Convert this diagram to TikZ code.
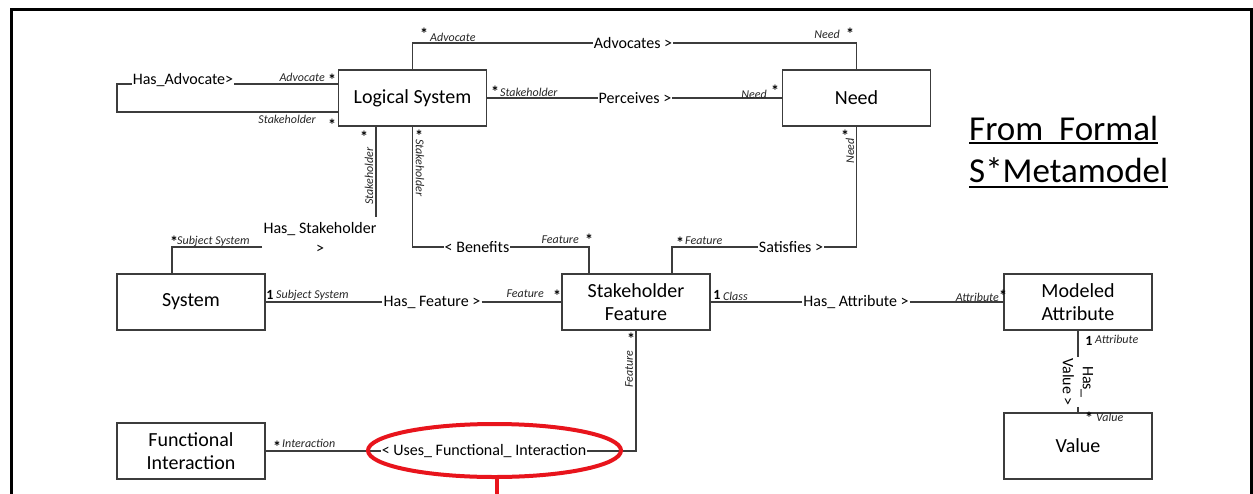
\documentclass[tikz,border=0pt]{standalone}
\usepackage{fontspec}
\setmainfont{Carlito}
\usetikzlibrary{shapes.geometric}
\definecolor{linegray}{HTML}{3C3C3C}
\definecolor{markred}{HTML}{E8141C}
\tikzset{
  box/.style={draw=linegray, line width=1.6pt, fill=white, minimum width=148pt,
    minimum height=56pt, inner sep=0pt, align=center,
    font=\fontsize{20}{23.5}\selectfont},
  wire/.style={draw=linegray, line width=1.5pt},
  rel/.style={fill=white, inner sep=1pt, align=center,
    font=\fontsize{16}{20}\selectfont},
  role/.style={inner sep=0pt, text=black!85, font=\fontsize{12}{12}\selectfont\itshape},
  starmark/.style={inner sep=0pt, yshift=-2.5pt, font=\fontsize{16}{16}\selectfont\bfseries},
  onemark/.style={inner sep=0pt, font=\fontsize{14}{14}\selectfont\bfseries},
  titletext/.style={inner sep=0pt, font=\fontsize{35}{40}\selectfont},
}
\begin{document}
\begin{tikzpicture}[x=1pt, y=-1pt]
\fill[white] (0,0) rectangle (1253,493);
\useasboundingbox (0,0) rectangle (1253,493);

% outer frame, open at the bottom
\draw[line width=3pt] (11,496) -- (11,9.5) -- (1251,9.5) -- (1251,496);

% classes
\node[box] (ls)   at (412.5,98)  {Logical System};
\node[box] (need) at (856.5,98)  {Need};
\node[box] (sys)  at (191,302)   {System};
\node[box] (sf)   at (636,302)   {Stakeholder\\Feature};
\node[box] (ma)   at (1078,302)  {Modeled\\Attribute};
\node[box, minimum height=66pt] (val) at (1078,446) {Value};
\node[box] (fi)   at (191,451)   {Functional\\Interaction};

% association names
\node[rel] (advs) at (633,43)   {Advocates >};
\node[rel] (perc) at (635,98)   {Perceives >};
\node[rel] (hadv) at (183,80)   {Has\_Advocate>};
\node[rel, fill=none] (hs) at (320,237.5) {Has\_ Stakeholder\\>};
\node[rel] (ben)  at (477,247)  {< Benefits};
\node[rel] (sat)  at (791,247)  {Satisfies >};
\node[rel] (hf)   at (432,302)  {Has\_ Feature >};
\node[rel] (ha)   at (856,302)  {Has\_ Attribute >};
\node[rel, rotate=-90] (hv) at (1078,382) {Has\_\\Value >};
\node[rel] (ufi)  at (484,451)  {< Uses\_ Functional\_ Interaction};

% bend points
\coordinate (haA) at (117,84);
\coordinate (haB) at (117,112);
\coordinate (hsA) at (376,217);
\coordinate (hsB) at (262,247);

% associations
\draw[wire] (ls.north) |- (advs.west);
\draw[wire] (advs.east) -| (need.north);
\draw[wire] (ls.east) -- (perc.west);
\draw[wire] (perc.east) -- (need.west);
\draw[wire] (ls.west |- haA) -- (hadv.east |- haA);
\draw[wire] (hadv.west |- haA) -- (haA) -- (haB) -- (ls.west |- haB);
\draw[wire] (ls.south -| hsA) -- (hsA);
\draw[wire] (hsB) -| ([xshift=-19pt]sys.north);
\draw[wire] (ls.south) |- (ben.west);
\draw[wire] (ben.east) -| ([xshift=-47pt]sf.north);
\draw[wire] ([xshift=36pt]sf.north) |- (sat.west);
\draw[wire] (sat.east) -| (need.south);
\draw[wire] (sys.east) -- (hf.west);
\draw[wire] (hf.east) -- (sf.west);
\draw[wire] (sf.east) -- (ha.west);
\draw[wire] (ha.east) -- (ma.west);
\draw[wire] (ma.south) -- (hv.west);
\draw[wire] (hv.east) -- (val.north);
\draw[wire] (sf.south) |- (ufi.east);
\draw[wire] (ufi.west) -- (fi.east);

% role names and multiplicities
\node[starmark] (m1) at (424,31) {*};
\node[role, anchor=west] (r1) at (430,37) {Advocate};
\node[role, anchor=east] (r2) at (840,34) {Need};
\node[starmark] (m2) at (850,31) {*};
\node[role, anchor=east] (r3) at (325,77) {Advocate};
\node[starmark] (m3) at (332,77) {*};
\node[role, anchor=east] (r4) at (316,119) {Stakeholder};
\node[starmark] (m4) at (332,122) {*};
\node[starmark] (m5) at (495,89) {*};
\node[role, anchor=west] (r5) at (500,92) {Stakeholder};
\node[role, anchor=east] (r6) at (767,94) {Need};
\node[starmark] (m6) at (775,88) {*};
\node[starmark] (m7) at (364,134) {*};
\node[role, rotate=90] (r7) at (369,176) {Stakeholder};
\node[starmark] (m8) at (419,133) {*};
\node[role, rotate=-90] (r8) at (420,168) {Stakeholder};
\node[starmark] (m9) at (174,239) {*};
\node[role, anchor=west] (r9) at (177,241) {Subject System};
\node[role, anchor=east] (r10) at (579,240) {Feature};
\node[starmark] (m10) at (589,237) {*};
\node[starmark] (m11) at (680,240) {*};
\node[role, anchor=west] (r11) at (685,241) {Feature};
\node[starmark] (m12) at (845,133) {*};
\node[role, rotate=90] (r12) at (850,151) {Need};
\node[onemark] (m13) at (270,295) {1};
\node[role, anchor=west] (r13) at (276,295) {Subject System};
\node[role, anchor=east] (r14) at (544,294) {Feature};
\node[starmark] (m14) at (557,293) {*};
\node[onemark] (m15) at (717,295) {1};
\node[role, anchor=west] (r15) at (723,296) {Class};
\node[role, anchor=east] (r16) at (999,297) {Attribute};
\node[starmark] (m16) at (1003,293) {*};
\node[onemark] (m17) at (1089,341) {1};
\node[role, anchor=west] (r17) at (1095,339) {Attribute};
\node[starmark] (m18) at (1089,415) {*};
\node[role, anchor=west] (r18) at (1096,417) {Value};
\node[starmark] (m19) at (277,444) {*};
\node[role, anchor=west] (r19) at (282,443) {Interaction};
\node[starmark] (m20) at (631,336) {*};
\node[role, rotate=90] (r20) at (629,369) {Feature};

% highlight round the functional interaction association
\node[draw=markred, line width=4pt, ellipse, minimum width=253pt,
      minimum height=53pt, inner sep=0pt] (mark) at (494.5,450.5) {};
\coordinate (markend) at (497,497);
\draw[markred, line width=4pt] ([xshift=2.5pt]mark.south) -- (markend);

% heading
\node[titletext, anchor=base west] (t1) at (969,140) {From\ \ Formal};
\node[titletext, anchor=base west] (t2) at (969,182) {S*Metamodel};
\draw[line width=2pt] ([yshift=-3pt]t1.base west) -- ([yshift=-3pt]t1.base east);
\draw[line width=2pt] ([yshift=-5pt]t2.base west) -- ([yshift=-5pt]t2.base east);
\end{tikzpicture}
\end{document}
